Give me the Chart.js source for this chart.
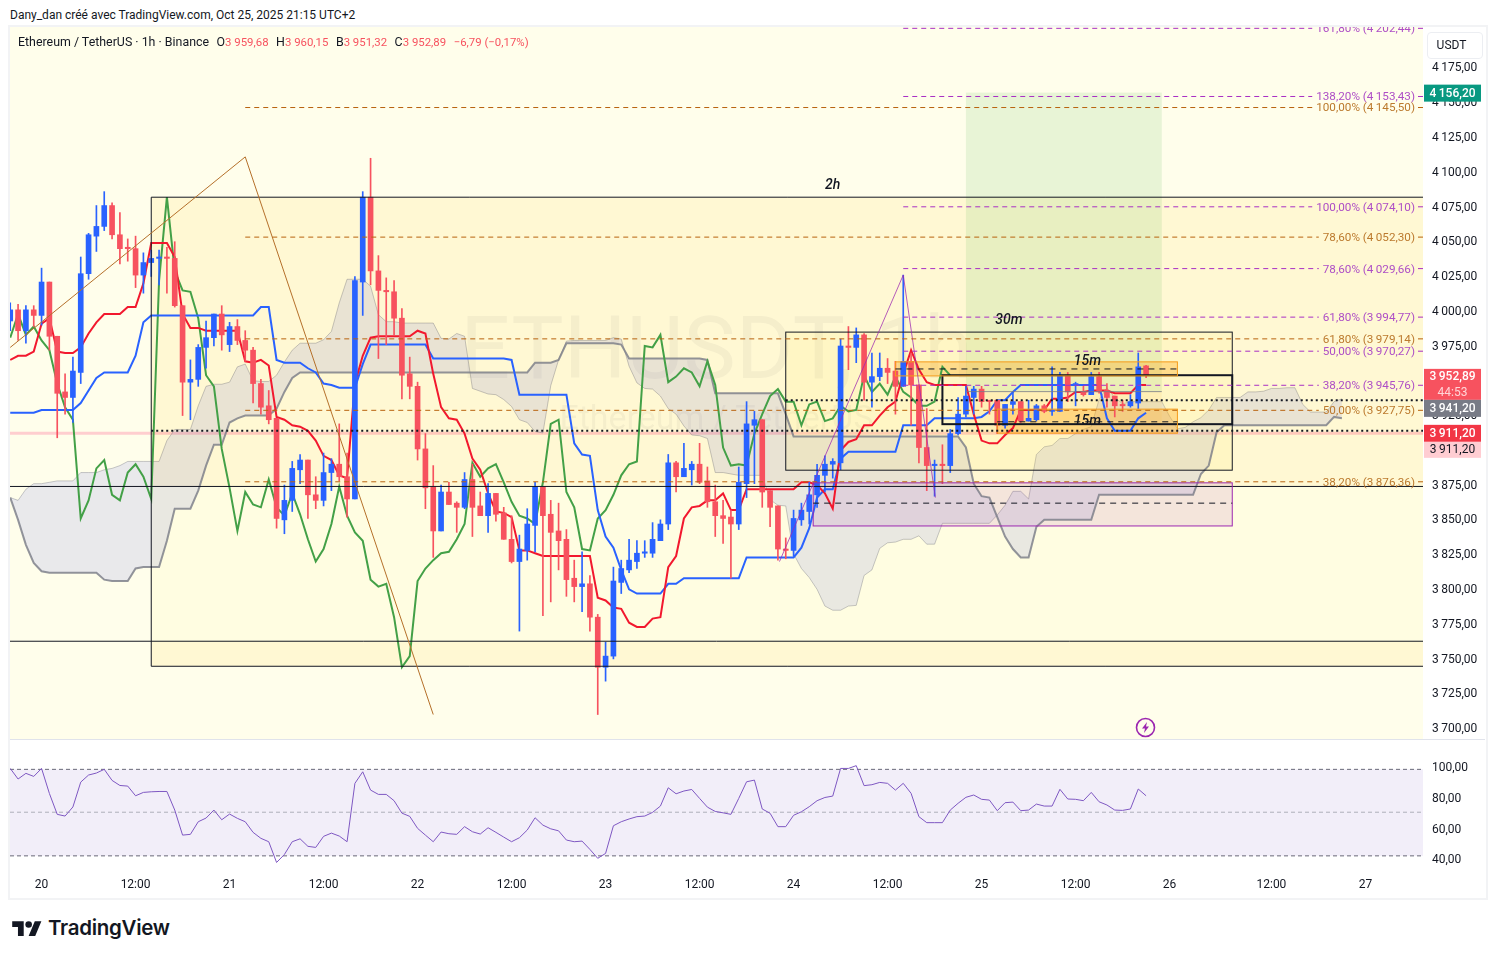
<!DOCTYPE html>
<html>
<head>
<meta charset="utf-8">
<title>ETHUSDT 1h</title>
<script src="https://cdn.jsdelivr.net/npm/chart.js@4"></script>
<style>
  html, body { margin: 0; background: #fff; width: 1495px; height: 958px; overflow: hidden; font-family: Roboto, sans-serif; color: #131722; }
  canvas { position: absolute; left: 10px; }
  #priceChart { top: 27px; }
  #rsiChart { top: 740px; }
  #frame { position: absolute; left: 8px; top: 25px; width: 1476px; height: 871px; border: 2px solid #f2f3f5; }
  #split { position: absolute; left: 10px; top: 739px; width: 1475px; height: 1px; background: #e0e3eb; }
  #byline { position: absolute; left: 10px; top: 8px; font-size: 12px; white-space: nowrap; }
  #legend { position: absolute; left: 18px; top: 34px; font-size: 12.4px; white-space: pre; }
  #legend b { font-weight: 400; font-size: 11.4px; color: #f7525f; }
  #legend i { font-style: normal; display: inline-block; width: 7.5px; }
  #usdt { position: absolute; left: 1427px; top: 32px; width: 54px; height: 25px; line-height: 25px; text-align: center; text-indent: -7px; font-size: 12px; border: 1px solid #eceef2; border-radius: 4px; box-sizing: content-box; }
  #bolt { position: absolute; left: 1134px; top: 716px; }
  #logo { position: absolute; left: 12px; top: 918px; }
  #brand { position: absolute; left: 48px; top: 915px; font: 600 20.5px Inter, sans-serif; letter-spacing: -0.3px; color: #131722; }
</style>
</head>
<body>
<div id="frame"></div>
<canvas id="priceChart" width="1475" height="712"></canvas>
<div id="split"></div>
<canvas id="rsiChart" width="1475" height="157"></canvas>
<div id="byline">Dany_dan créé avec TradingView.com, Oct 25, 2025 21:15 UTC+2</div>
<div id="legend">Ethereum / TetherUS · 1h · Binance<i></i>O<b>3 959,68</b><i></i>H<b>3 960,15</b><i></i>B<b>3 951,32</b><i></i>C<b>3 952,89</b><i></i><b>−6,79 (−0,17%)</b></div>
<div id="usdt">USDT</div>
<svg id="bolt" width="23" height="23" viewBox="0 0 23 23"><circle cx="11.5" cy="11.5" r="9" fill="none" stroke="#9c27b0" stroke-width="1.6"/><path d="M13 6 L8 12.5 H11 L10 17 L15 10.5 H12 Z" fill="#9c27b0"/></svg>
<svg id="logo" width="30" height="23" viewBox="0 0 36 28"><path d="M14 22H7V11H0V4h14v18zM28 22h-8l7.5-18h8L28 22z" fill="#131722"/><circle cx="20" cy="8" r="4" fill="#131722"/></svg>
<div id="brand">TradingView</div>

<script>
// bar numbers: 0 = Oct 20 00:00, one bar per hour. first candle is bar -4
const firstBar = -4;

const opens = [
  3992,4000,3985,4000,3996,4020,3981,3941,3937,3955,4026,4053,4060,4075,4054,
  4045,4044,4025,4034,4037,4038,4037,4003,3948,3950,3973,3980,3997,3975,3988,
  3978,3971,3947,3931,3922,3849,3863,3885,3892,3867,3863,3883,3889,3880,3864,
  4020,4081,4028,4014,4013,3994,3954,3945,3900,3873,3841,3869,3861,3858,3878,
  3859,3852,3868,3854,3835,3819,3827,3845,3873,3853,3841,3835,3807,3801,3803,
  3779,3743,3751,3804,3813,3819,3825,3825,3834,3846,3890,3880,3885,3889,3877,
  3862,3852,3851,3846,3875,3917,3921,3870,3859,3828,3827,3849,3855,3867,3881,
  3889,3890,3974,3973,3982,3948,3952,3958,3956,3945,3963,3946,3901,3888,3889,
  3888,3911,3925,3937,3943,3935,3935,3917,3932,3934,3920,3921,3931,3927,3927,
  3953,3946,3941,3939,3952,3942,3938,3932,3931,3933,3959.68
];
const highs = [
  4005,4004,4003,4003,4030,4020,3981,3954,3966,4038,4055,4075,4085,4077,4070,
  4051,4053,4041,4043,4043,4045,4049,4003,3964,3975,3992,3997,4003,3991,3993,
  3985,3973,3950,3942,3922,3874,3891,3896,3892,3880,3897,3893,3918,3897,4024,
  4085,4109,4039,4023,4021,4001,3966,3948,3911,3888,3874,3876,3862,3883,3889,
  3869,3875,3868,3858,3852,3838,3857,3876,3873,3863,3861,3842,3820,3826,3809,
  3781,3761,3815,3820,3835,3834,3834,3847,3849,3896,3891,3904,3891,3904,3887,
  3874,3863,3856,3887,3934,3927,3921,3870,3859,3836,3856,3861,3876,3889,3895,
  3893,3979,3988,3987,3983,3969,3969,3965,3963,4025,3969,3946,3929,3892,3903,
  3914,3937,3945,3945,3945,3935,3935,3932,3941,3934,3935,3932,3932,3959,3955,
  3955,3948,3945,3955,3955,3947,3938,3935,3939,3969,3960.15
];
const lows = [
  3985,3978,3976,3988,3989,3971,3908,3925,3919,3947,4022,4042,4057,4051,4033,
  4035,4016,4012,4024,4018,4012,4002,3924,3921,3945,3958,3974,3971,3970,3975,
  3963,3933,3925,3918,3843,3839,3855,3875,3850,3857,3859,3870,3877,3851,3864,
  3996,4018,3965,3975,3982,3936,3936,3892,3857,3822,3841,3860,3840,3857,3837,
  3852,3840,3848,3835,3818,3769,3820,3826,3780,3790,3813,3794,3790,3783,3769,
  3709,3733,3749,3796,3811,3814,3822,3822,3834,3842,3869,3880,3874,3875,3858,
  3837,3832,3807,3842,3865,3875,3858,3844,3820,3821,3823,3845,3846,3858,3869,
  3879,3885,3957,3962,3935,3930,3949,3947,3925,3945,3917,3890,3870,3866,3875,
  3883,3910,3923,3925,3930,3925,3911,3915,3925,3919,3920,3920,3926,3924,3927,
  3934,3931,3938,3939,3940,3930,3923,3927,3930,3929,3951.32
];
const closes = [
  4000,3985,4000,3996,4020,3981,3940,3937,3956,4026,4054,4060,4075,4054,4044,
  4044,4025,4034,4037,4038,4037,4003,3948,3950,3973,3980,3997,3982,3988,3978,
  3971,3947,3930,3921,3850,3863,3886,3892,3867,3863,3883,3889,3880,3864,4021,
  4081,4028,4014,4013,3994,3953,3945,3900,3872,3841,3869,3860,3858,3878,3858,
  3852,3868,3853,3835,3819,3828,3846,3873,3852,3840,3834,3806,3801,3803,3779,
  3743,3751,3805,3814,3820,3825,3826,3835,3846,3890,3880,3886,3889,3876,3862,
  3852,3850,3846,3876,3918,3921,3869,3858,3828,3827,3850,3856,3867,3881,3889,
  3891,3974,3973,3982,3948,3952,3958,3955,3945,3963,3946,3901,3888,3889,3888,
  3911,3925,3938,3943,3934,3934,3917,3932,3934,3920,3922,3931,3927,3928,3953,
  3941,3947,3939,3952,3941,3937,3931,3931,3934,3959,3952.89
];

const tenkan = [
  3964,3967,3967,3970,3990,3994,3970,3969,3969,3973,3983,3991,3997,3997,3997,
  4002,4002,4019,4048,4048,4048,4038,3997,3987,3987,3985,3985,3985,3985,3985,
  3963,3962,3964,3960,3923,3921,3917,3916,3913,3906,3895,3892,3881,3879,3947,
  3967,3980,3981,3981,3981,3981,3981,3985,3983,3954,3930,3922,3921,3911,3893,
  3885,3868,3855,3854,3851,3827,3827,3825,3823,3823,3823,3823,3823,3823,3823,
  3793,3791,3786,3785,3775,3772,3772,3778,3779,3815,3823,3850,3858,3859,3863,
  3863,3868,3856,3856,3871,3871,3871,3871,3871,3871,3871,3876,3876,3874,3868,
  3857,3899,3905,3907,3917,3917,3924,3930,3934,3954,3971,3957,3948,3946,3946,
  3946,3946,3946,3925,3906,3904,3904,3910,3915,3928,3928,3928,3928,3936,3936,
  3937,3941,3941,3942,3942,3942,3940,3940,3940,3946,3946
];
const kijun = [
  3926,3926,3926,3926,3928,3928,3928,3928,3928,3933,3942,3951,3955,3955,3955,
  3955,3967,3991,3996,3996,3996,3996,3996,3996,3996,3996,3996,3996,3996,3996,
  3996,3996,4002,4002,3964,3962,3962,3962,3958,3955,3947,3946,3944,3944,3944,
  3961,3975,3975,3975,3975,3975,3975,3975,3975,3965,3965,3965,3965,3965,3965,
  3965,3965,3965,3965,3964,3939,3939,3939,3939,3939,3939,3939,3904,3896,3895,
  3856,3837,3829,3813,3799,3796,3796,3796,3796,3803,3803,3807,3807,3807,3807,
  3807,3807,3807,3807,3822,3822,3822,3822,3822,3822,3822,3829,3843,3865,3871,
  3871,3893,3898,3898,3898,3898,3898,3898,3898,3917,3917,3917,3917,3922,3922,
  3922,3922,3922,3922,3923,3927,3935,3935,3941,3946,3946,3946,3946,3946,3946,
  3946,3946,3946,3946,3946,3922,3913,3913,3913,3922,3926
];
// lagging line, starts at bar -4 and stops 25 bars before the last candle
const chikou = [
  3980,3997,3982,3988,3978,3971,3947,3930,3921,3850,3863,3886,3892,3867,3863,
  3883,3889,3880,3864,4021,4081,4028,4014,4013,3994,3953,3945,3900,3872,3841,
  3869,3860,3858,3878,3858,3852,3868,3853,3835,3819,3828,3846,3873,3852,3840,
  3834,3806,3801,3803,3779,3743,3751,3805,3814,3820,3825,3826,3835,3846,3890,
  3880,3886,3889,3876,3862,3852,3850,3846,3876,3918,3921,3869,3858,3828,3827,
  3850,3856,3867,3881,3889,3891,3974,3973,3982,3948,3952,3958,3955,3945,3963,
  3946,3901,3888,3889,3888,3911,3925,3938,3943,3934,3934,3917,3932,3934,3920,
  3922,3931,3927,3928,3953,3941,3947,3939,3952,3941,3937,3931,3931,3934,3959,
  3952.89
];
// cloud runs 25 bars past the last candle
const spanA = [
  3865,3863,3871,3875,3875,3876,3877,3877,3877,3883,3883,3883,3885,3886,3888,
  3891,3891,3891,3891,3891,3906,3914,3914,3914,3931,3945,3946.5,3946.5,3948,3959,
  3961,3949,3948.5,3948.5,3953,3962.5,3971,3976,3976,3976,3978.5,3984.5,4005,4022,4022,
  4022,4017,3996.5,3991.5,3991.5,3990.5,3990.5,3990.5,3990.5,3990.5,3979.5,3979,3983,3981,3943.5,
  3941.5,3939.5,3939,3935.5,3930.5,3921,3919,3912.5,3911.5,3945.5,3964,3977.5,3978,3978,3978,
  3978,3978,3980,3979,3959.5,3947.5,3943.5,3943,3938,3929,3925,3916.5,3910,3909.5,3907.5,
  3883,3883,3882,3881,3881,3881,3881,3863.5,3859.5,3859,3824.5,3814,3807.5,3799,3787,
  3784,3784,3787,3787.5,3809,3813,3828.5,3832.5,3833,3835,3835,3837.5,3831.5,3831.5,3846.5,
  3846.5,3846.5,3846.5,3846.5,3846.5,3846.5,3852.5,3859.5,3869.5,3869.5,3864,3896,3901.5,3902.5,3907.5,
  3907.5,3911,3914,3916,3935.5,3944,3937,3932.5,3934,3934,3934,3934,3934,3923.5,3914.5,
  3915.5,3919.5,3922.5,3928,3937,3937,3937,3937,3941,3941,3941.5,3943.5,3943.5,3944,3944,
  3932,3926.5,3926.5,3926.5,3934,3936
];
const spanB = [
  3865,3849,3831,3818,3812,3811,3811,3811,3811,3811,3811,3811,3806,3805,3805,
  3805,3814,3815,3815,3815,3834,3857,3857,3857,3870,3888,3903,3903,3919,3922,
  3924,3924,3924,3924,3929,3941,3951,3955,3955,3955,3955,3955,3955,3955,3955,
  3955,3955,3955,3955,3955,3955,3955,3955,3955,3955,3955,3955,3955,3955,3955,
  3955,3955,3955,3955,3955,3955,3955,3962,3962,3962,3964,3976,3976,3976,3976,
  3976,3976,3976,3975,3965,3965,3965,3965,3965,3965,3965,3965,3965,3965,3964,
  3940,3940,3940,3940,3940,3940,3940,3940,3940,3925,3909,3909,3909,3909,3909,
  3909,3909,3909,3909,3909,3909,3909,3909,3909,3909,3909,3909,3909,3909,3909,
  3909,3909,3901,3875,3866,3865,3851,3837,3828,3822,3822,3844,3849,3849,3849,
  3849,3849,3849,3849,3867,3867,3867,3867,3867,3867,3867,3867,3867,3867,3867,
  3867,3867,3882,3888,3912,3917,3917,3917,3917,3917,3917,3917,3917,3917,3917,
  3917,3917,3917,3917,3923,3922
];
const rsi = [
  98.9,92,95.7,93.7,98.9,82.6,69,67.9,73.8,90,94.6,95.9,98.3,91.1,87.8,
  87.4,81.1,83.3,83.7,83.9,83.9,71.8,55.5,56,64.2,66.6,71.8,65.5,69.2,66.4,
  64.2,57.3,53.4,51.2,37.7,42.9,51.2,53.1,48.2,47.5,54.7,56.8,54.9,51.2,89.2,
  96.7,84.8,82,82,77.9,69.8,67.7,59.9,55.5,51.2,57.5,56.4,56,61,57.7,
  56.2,60.3,57.3,54.2,51.2,53.8,58.8,66.8,62,59.6,58.3,52.3,51.2,51.6,46.2,
  40.4,43.6,61.6,64.2,66,67.5,67.9,70.3,74.4,86.3,82.4,84.2,85.2,79.4,73.7,
  70.9,70,69,79.4,90.2,91.3,72.5,69.7,61,61,68.4,70.7,74,77.9,80,
  80.9,98.9,98.9,100.7,87.7,88.3,89.8,89.2,84.8,89.2,82.7,67.5,63.6,63.6,63.6,
  71.8,76.2,80.1,81.6,78.8,78.3,71.4,76.6,77,71.4,71.8,75.7,74.4,74.4,85.3,
  79,78.8,77.9,83.3,77.2,75.1,71.8,71.6,72.5,85.5,81.1
];
const rsiLevels = [98.3, 70.4, 42];

const timeTicks = [0,12,24,36,48,60,72,84,96,108,120,132,144,157,169];
const timeLabels = ['20','12:00','21','12:00','22','12:00','23','12:00','24','12:00','25','12:00','26','12:00','27'];

// fib levels as [label, price]
const fibBrown = [['100,00%',4145.50],['78,60%',4052.30],['61,80%',3979.14],['50,00%',3927.75],['38,20%',3876.36]];
const fibPurple = [['161,80%',4202.44],['138,20%',4153.43],['100,00%',4074.10],['78,60%',4029.66],['61,80%',3994.77],['50,00%',3970.27],['38,20%',3945.76]];
const fibBrownStart = 26;
const fibPurpleStart = 110;

// drawings, [bar, price]
const brownLeg = [[-4,3973],[26,4110],[50,3709]];
const purpleLeg = [[94.2,3819],[110,4025],[114.1,3865]];
const targetPrice = 4156.20, lastPrice = 3952.89, entryPrice = 3941.20, stopPrice = 3911.20;
const zone2hOuter = [14,3743.7,4081];
const zone2hLines = [3873,3761.7];
const box30m = [95,152,3884.7,3984];
const box15m = [115,152,3917.8,3953];
const orangeTop = [109,145,3952.5,3962.6,3957.5];
const orangeLow = [122,145,3911.3,3928.6,3919.5];
const purpleZone = [98.5,152,3844.6,3875.6,3861];
const positionBars = [118,143];
const dottedLevels = [[14,3913],[95,3935]];
const notes = [['2h',101,4089.7],['30m',123.5,3992.5],['15m',133.5,3963],['15m',133.5,3920]];

const xMin = -4.03, xMax = 176.35;

function fmt(v) {
  const s = v.toFixed(2).replace('.', ',');
  return s.length > 6 ? s.slice(0, -6) + '\u2009' + s.slice(-6) : s;
}
function pts(arr) {
  return arr.map((v, k) => ({ x: firstBar + k, y: v }));
}

const candleColor = opens.map((o, k) => closes[k] >= o ? '#2962ff' : '#f7525f');
const wicks = lows.map((l, k) => ({ x: firstBar + k, y: [l, highs[k]] }));
const bodies = opens.map((o, k) => ({ x: firstBar + k, y: [o, closes[k]] }));

function lineSet(data, color, width, order) {
  return { type: 'line', data: pts(data), borderColor: color, borderWidth: width, pointRadius: 0, tension: 0, fill: false, order: order };
}

// --- drawing helpers, all through the chart scales
function hline(c, i0, i1, p, color, dash, width) {
  const ctx = c.ctx, y = c.scales.y.getPixelForValue(p);
  ctx.save();
  ctx.strokeStyle = color;
  ctx.lineWidth = width || 1;
  ctx.setLineDash(dash || []);
  ctx.beginPath();
  ctx.moveTo(c.scales.x.getPixelForValue(i0), y);
  ctx.lineTo(c.scales.x.getPixelForValue(i1), y);
  ctx.stroke();
  ctx.restore();
}
function rect(c, i0, i1, p0, p1, fill, stroke, width) {
  const ctx = c.ctx, x0 = c.scales.x.getPixelForValue(i0), x1 = c.scales.x.getPixelForValue(i1);
  const y0 = c.scales.y.getPixelForValue(p1), y1 = c.scales.y.getPixelForValue(p0);
  ctx.save();
  if (fill) { ctx.fillStyle = fill; ctx.fillRect(x0, y0, x1 - x0, y1 - y0); }
  if (stroke) { ctx.strokeStyle = stroke; ctx.lineWidth = width || 1; ctx.strokeRect(x0, y0, x1 - x0, y1 - y0); }
  ctx.restore();
}
function poly(c, list, color, width) {
  const ctx = c.ctx;
  ctx.save();
  ctx.strokeStyle = color;
  ctx.lineWidth = width;
  ctx.beginPath();
  list.forEach((p, k) => {
    const x = c.scales.x.getPixelForValue(p[0]), y = c.scales.y.getPixelForValue(p[1]);
    if (k) ctx.lineTo(x, y); else ctx.moveTo(x, y);
  });
  ctx.stroke();
  ctx.restore();
}
function fibSet(c, levels, startBar, lineColor, textColor) {
  const ctx = c.ctx, area = c.chartArea;
  levels.forEach(l => {
    const text = l[0] + ' (' + fmt(l[1]) + ')';
    const y = c.scales.y.getPixelForValue(l[1]);
    ctx.save();
    ctx.font = '11.7px Roboto, sans-serif';
    const w = ctx.measureText(text).width;
    const textEnd = area.right - 8;
    hline(c, startBar, c.scales.x.getValueForPixel(textEnd - w - 4), l[1], lineColor, [5, 4]);
    ctx.strokeStyle = lineColor;
    ctx.beginPath(); ctx.moveTo(textEnd + 3, y); ctx.lineTo(area.right, y); ctx.stroke();
    ctx.fillStyle = textColor;
    ctx.textAlign = 'right';
    ctx.textBaseline = 'middle';
    ctx.fillText(text, textEnd, y + 1);
    ctx.restore();
  });
}
function tag(c, top, height, bg, lines) {
  const ctx = c.ctx, x = c.scales.y.left + 1;
  ctx.save();
  ctx.fillStyle = bg;
  ctx.fillRect(x, top, 57, height);
  ctx.textAlign = 'center';
  ctx.textBaseline = 'middle';
  lines.forEach((l, k) => {
    ctx.font = (l.weight || 500) + ' 12px Roboto, sans-serif';
    ctx.fillStyle = l.color;
    ctx.fillText(l.text, x + 28.5, top + (k + 0.5) * height / lines.length + 0.5);
  });
  ctx.restore();
}

const SPAN_B = 1;

const priceDrawings = {
  id: 'priceDrawings',
  beforeDraw(c) {
    const ctx = c.ctx, a = c.chartArea;
    ctx.save();
    ctx.fillStyle = '#fffeeb';
    ctx.fillRect(a.left, a.top, a.width, a.height);
    // watermark
    ctx.fillStyle = 'rgba(19,23,34,0.045)';
    ctx.textAlign = 'center';
    ctx.textBaseline = 'middle';
    ctx.font = '88px Roboto, sans-serif';
    ctx.fillText('ETHUSDT, 1h', (a.left + a.right) / 2, 329);
    ctx.font = '34px Roboto, sans-serif';
    ctx.fillText('Ethereum / TetherUS', (a.left + a.right) / 2, 393);
    ctx.restore();
    hline(c, xMin, xMax, stopPrice, 'rgba(255,190,198,0.75)', null, 3);
  },
  beforeDatasetDraw(c, args) {
    if (args.index !== SPAN_B) return;
    const ctx = c.ctx, a = c.chartArea;
    ctx.save();
    ctx.beginPath(); ctx.rect(a.left, a.top, a.width, a.height); ctx.clip();
    // 2h zones sit above the cloud and tint it
    ctx.globalCompositeOperation = 'multiply';
    rect(c, zone2hOuter[0], xMax, zone2hOuter[1], zone2hOuter[2], 'rgb(255,254,245)');
    rect(c, zone2hOuter[0], xMax, zone2hLines[0], zone2hOuter[2], 'rgb(255,250,240)');
    rect(c, zone2hOuter[0], xMax, zone2hOuter[1], zone2hLines[1], 'rgb(255,250,240)');
    ctx.globalCompositeOperation = 'source-over';
    // position tool
    rect(c, positionBars[0], positionBars[1], entryPrice, targetPrice, 'rgba(76,175,80,0.13)');
    rect(c, positionBars[0], positionBars[1], stopPrice, entryPrice, 'rgba(255,152,0,0.08)');
    // boxes
    rect(c, box30m[0], box30m[1], box30m[2], box30m[3], 'rgba(255,235,120,0.16)');
    rect(c, purpleZone[0], purpleZone[1], purpleZone[2], purpleZone[3], 'rgba(156,39,176,0.11)');
    rect(c, orangeTop[0], orangeTop[1], orangeTop[2], orangeTop[3], 'rgba(255,165,20,0.32)');
    rect(c, orangeLow[0], orangeLow[1], orangeLow[2], orangeLow[3], 'rgba(255,165,20,0.32)');
    ctx.restore();
  },
  afterDatasetsDraw(c) {
    const ctx = c.ctx, a = c.chartArea;
    ctx.save();
    ctx.beginPath(); ctx.rect(a.left, a.top, a.width, a.height); ctx.clip();
    const black = '#131722';
    // 2h frame and extended lines
    hline(c, zone2hOuter[0], xMax, zone2hOuter[2], black);
    hline(c, zone2hOuter[0], xMax, zone2hOuter[1], black);
    zone2hLines.forEach(p => hline(c, xMin, xMax, p, black));
    poly(c, [[zone2hOuter[0], zone2hOuter[1]], [zone2hOuter[0], zone2hOuter[2]]], black, 1);
    rect(c, box30m[0], box30m[1], box30m[2], box30m[3], null, black, 1);
    rect(c, box15m[0], box15m[1], box15m[2], box15m[3], null, black, 2);
    rect(c, purpleZone[0], purpleZone[1], purpleZone[2], purpleZone[3], null, '#9c27b0', 1);
    hline(c, purpleZone[0], purpleZone[1], purpleZone[4], black, [6, 5]);
    rect(c, orangeTop[0], orangeTop[1], orangeTop[2], orangeTop[3], null, '#f59c1a', 1);
    rect(c, orangeLow[0], orangeLow[1], orangeLow[2], orangeLow[3], null, '#f59c1a', 1);
    hline(c, orangeTop[0], orangeTop[1], orangeTop[4], black, [6, 5]);
    hline(c, orangeLow[0], orangeLow[1], orangeLow[4], black, [6, 5]);
    dottedLevels.forEach(d => hline(c, d[0], xMax, d[1], black, [2, 3], 2));
    hline(c, positionBars[0], positionBars[1], entryPrice, 'rgba(120,123,134,0.8)');
    poly(c, brownLeg, '#b5702a', 1);
    poly(c, purpleLeg, 'rgba(156,39,176,0.75)', 1);
    fibSet(c, fibBrown, fibBrownStart, '#b8620e', '#bc7a2e');
    fibSet(c, fibPurple, fibPurpleStart, '#a92fc4', '#ae4fc6');
    ctx.fillStyle = black;
    ctx.font = 'italic 500 14px Roboto, sans-serif';
    ctx.textAlign = 'center';
    ctx.textBaseline = 'middle';
    notes.forEach(n => ctx.fillText(n[0], c.scales.x.getPixelForValue(n[1]), c.scales.y.getPixelForValue(n[2])));
    ctx.restore();
  },
  afterDraw(c) {
    const y = c.scales.y;
    const targetY = y.getPixelForValue(targetPrice);
    const lastY = y.getPixelForValue(lastPrice);
    const stopY = y.getPixelForValue(stopPrice);
    tag(c, targetY - 8, 17, '#089981', [{ text: fmt(targetPrice), color: '#fff' }]);
    tag(c, lastY - 6.5, 31, '#f7525f', [{ text: fmt(lastPrice), color: '#fff' }, { text: '44:53', color: '#ffd5d8', weight: 400 }]);
    tag(c, lastY + 24.5, 17, '#787b86', [{ text: fmt(entryPrice), color: '#fff' }]);
    tag(c, stopY - 8.5, 17, '#f23645', [{ text: fmt(stopPrice), color: '#fff' }]);
    tag(c, stopY + 8.5, 16, '#ffcdd2', [{ text: fmt(stopPrice), color: '#131722', weight: 400 }]);
  }
};

// the axis labels must not eat into the plot height
function flushAxis(width) {
  return s => { s.width = width; s.paddingTop = 0; s.paddingBottom = 0; };
}

new Chart(document.getElementById('priceChart'), {
  type: 'bar',
  data: {
    datasets: [
      Object.assign(lineSet(spanA, 'rgba(120,123,134,0.4)', 1, 11), {
        fill: { target: '+1', above: 'rgba(100,107,240,0.14)', below: 'rgba(100,107,240,0.14)' }
      }),
      lineSet(spanB, 'rgba(120,123,134,0.8)', 2, 10),
      lineSet(chikou, '#43a047', 2, 6),
      lineSet(kijun, '#2962ff', 2, 5),
      lineSet(tenkan, '#f2182e', 2, 4),
      { type: 'bar', data: wicks, backgroundColor: candleColor, barThickness: 1, grouped: false, order: 2 },
      { type: 'bar', data: bodies, backgroundColor: candleColor, barThickness: 5, grouped: false, order: 1 }
    ]
  },
  options: {
    responsive: false,
    animation: false,
    events: [],
    layout: { padding: 0 },
    plugins: { legend: { display: false }, tooltip: { enabled: false } },
    scales: {
      x: { type: 'linear', min: xMin, max: xMax, offset: false, display: false, grid: { display: false, offset: false } },
      y: {
        position: 'right',
        min: 3691.4,
        max: 4203.4,
        grid: { display: false, drawTicks: false },
        border: { display: false },
        ticks: { stepSize: 25, includeBounds: false, padding: 9, labelOffset: 2, color: '#131722', font: { size: 12, family: 'Roboto' }, callback: v => v > 4175 ? '' : fmt(v) },
        afterFit: flushAxis(62)
      }
    }
  },
  plugins: [priceDrawings]
});

const rsiBand = {
  id: 'rsiBand',
  beforeDatasetsDraw(c) {
    const ctx = c.ctx, a = c.chartArea, y = c.scales.y;
    const top = y.getPixelForValue(rsiLevels[0]), low = y.getPixelForValue(rsiLevels[2]);
    ctx.save();
    ctx.fillStyle = 'rgba(126,87,194,0.1)';
    ctx.fillRect(a.left, top, a.width, low - top);
    ctx.lineWidth = 1;
    ctx.setLineDash([4, 3]);
    rsiLevels.forEach((l, k) => {
      const py = y.getPixelForValue(l);
      ctx.strokeStyle = k === 1 ? 'rgba(120,123,134,0.55)' : 'rgba(90,90,105,0.9)';
      ctx.beginPath(); ctx.moveTo(a.left, py); ctx.lineTo(a.right, py); ctx.stroke();
    });
    ctx.restore();
  }
};

new Chart(document.getElementById('rsiChart'), {
  type: 'line',
  data: {
    datasets: [lineSet(rsi, '#7e57c2', 1, 1)]
  },
  options: {
    responsive: false,
    animation: false,
    events: [],
    layout: { padding: 0 },
    plugins: { legend: { display: false }, tooltip: { enabled: false } },
    scales: {
      x: {
        type: 'linear',
        min: xMin,
        max: xMax,
        grid: { display: false, drawTicks: false },
        border: { display: false },
        afterBuildTicks: s => { s.ticks = timeTicks.map(v => ({ value: v })); },
        afterFit: s => { s.height = 29; s.paddingLeft = 0; s.paddingRight = 0; },
        ticks: {
          autoSkip: false,
          maxRotation: 0,
          padding: 10,
          color: '#131722',
          font: { size: 12, family: 'Roboto' },
          callback: v => timeLabels[timeTicks.indexOf(v)]
        }
      },
      y: {
        position: 'right',
        min: 34.1,
        max: 117.4,
        grid: { display: false, drawTicks: false },
        border: { display: false },
        ticks: { stepSize: 20, includeBounds: false, padding: 9, labelOffset: 1.5, color: '#131722', font: { size: 12, family: 'Roboto' }, callback: v => v <= 100 ? fmt(v) : '' },
        afterFit: flushAxis(62)
      }
    }
  },
  plugins: [rsiBand]
});
</script>
</body>
</html>
